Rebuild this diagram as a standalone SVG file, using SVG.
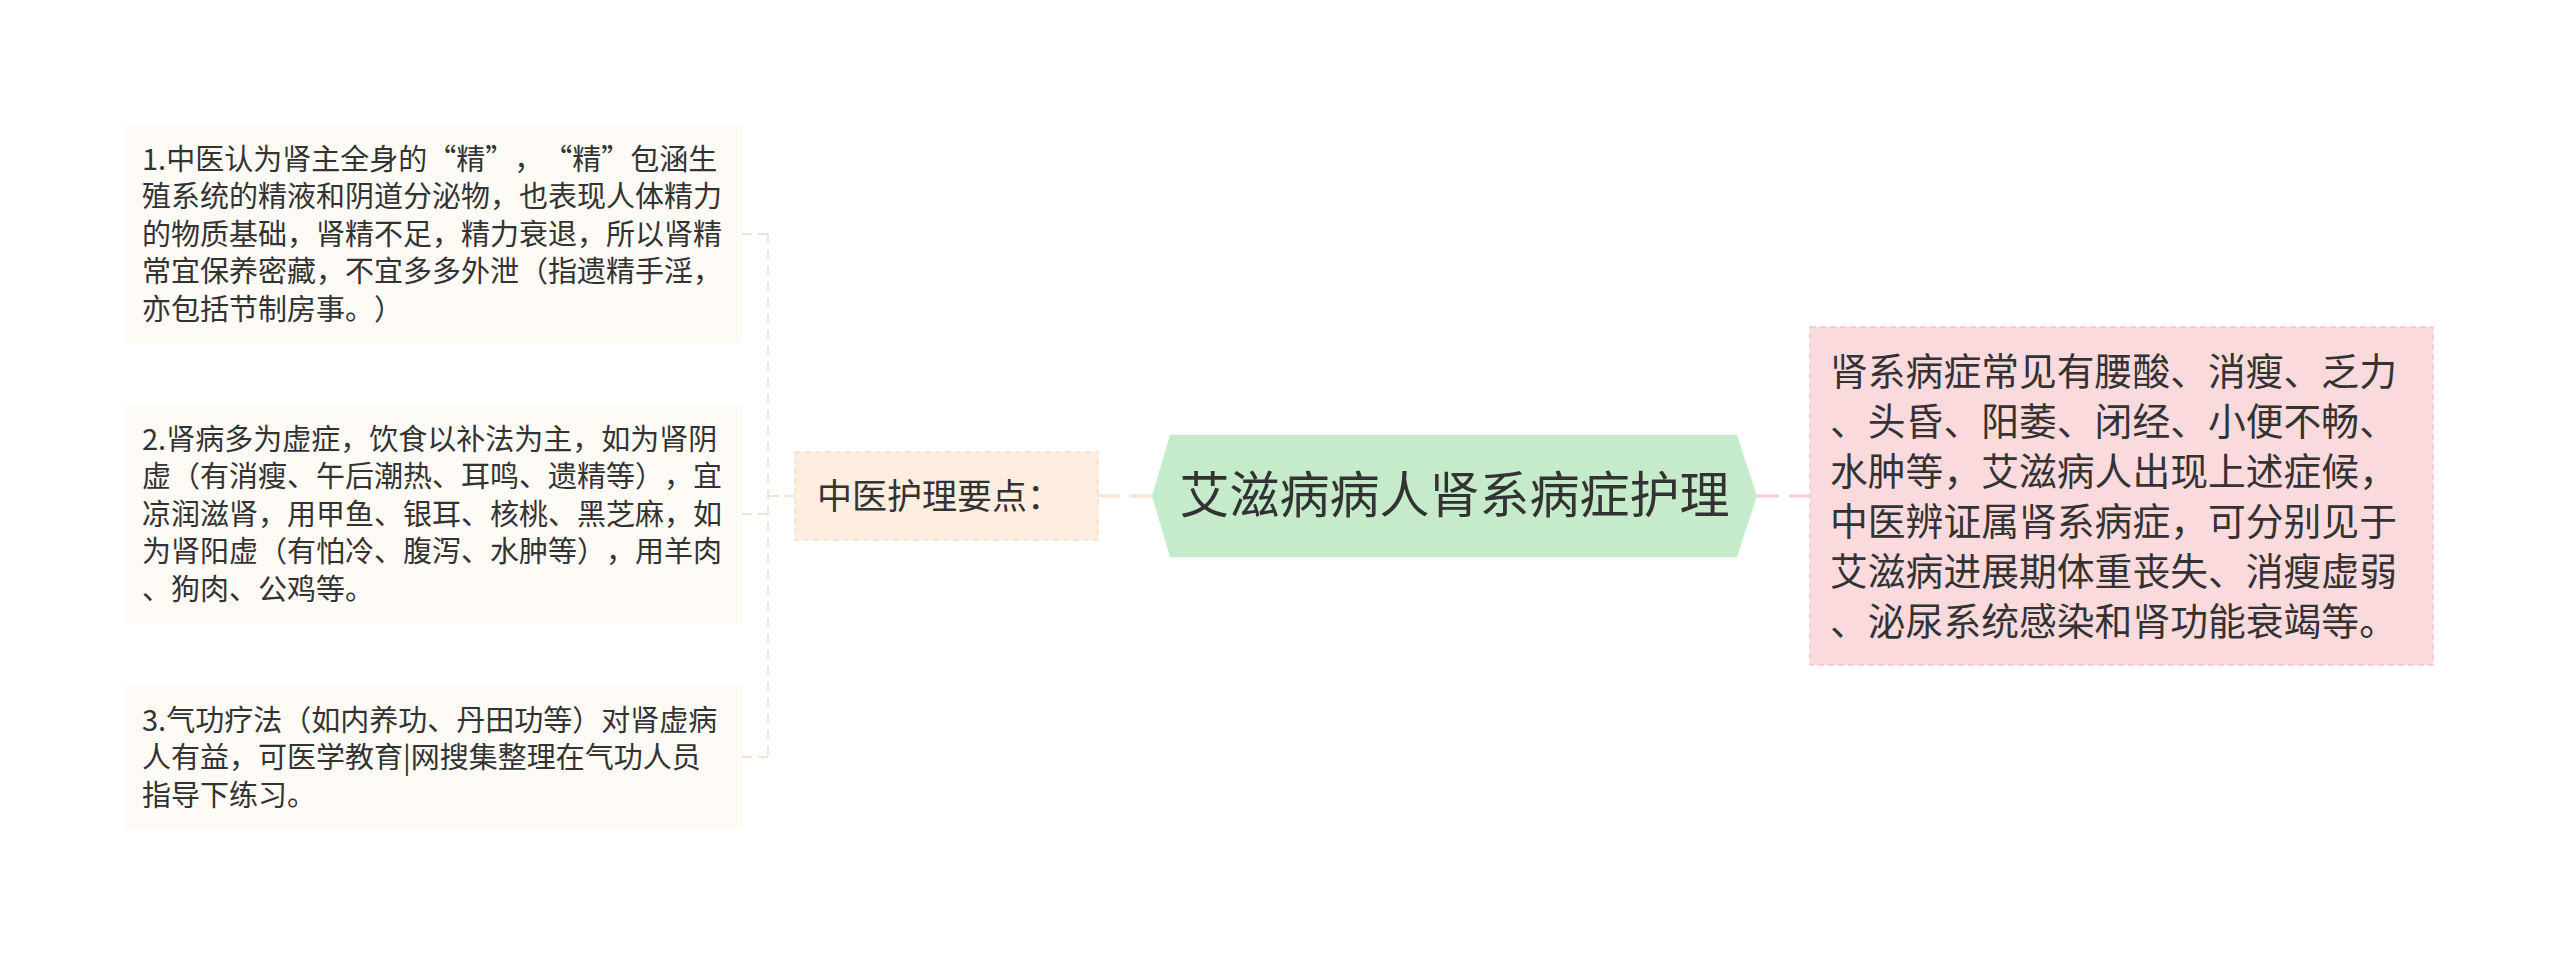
<svg xmlns="http://www.w3.org/2000/svg" width="2560" height="955" viewBox="0 0 2560 955">
<style>
.t{font-family:"Noto Sans CJK SC","Noto Sans",sans-serif;fill:#333333;text-spacing-trim:space-all;font-feature-settings:"chws" 0,"halt" 0;}
.leaf{fill:#FEFAF5;}
.lt{font-size:29px;}
.rt{font-size:37.8px;}
.conL{fill:none;stroke:#F4E2D2;stroke-width:2;stroke-dasharray:10 6;}
.conC{fill:none;stroke:#FBE3D0;stroke-width:3;stroke-dasharray:22 10;}
.conR{fill:none;stroke:#F8CCD1;stroke-width:3;stroke-dasharray:22 10;}
</style>
<rect width="2560" height="955" fill="#FFFFFF"/>
<g id="connectors">
<path class="conL" d="M795,496 H768 M768,234 V757 M742,234 H768 M742,514 H768 M742,757 H768"/>
<path class="conC" d="M1098,496 H1152"/>
<path class="conR" d="M1757,496 H1810"/>
</g>
<g id="root">
<polygon points="1152,496 1170,435 1737,435 1757,496 1737,557 1170,557" fill="#C6EBCB"/>
<text class="t" x="1454.5" y="513" font-size="50" text-anchor="middle">艾滋病病人肾系病症护理</text>
</g>
<g id="node-zhongyi">
<rect x="795" y="452" width="303" height="88" fill="#FDEEDF" stroke="#F8E0CA" stroke-width="1.5" stroke-dasharray="6 4"/>
<text class="t" x="817" y="509" font-size="35">中医护理要点：</text>
</g>
<g id="node-right">
<rect x="1810" y="327" width="623" height="338" fill="#FBDADD" stroke="#F3C6CA" stroke-width="1.5" stroke-dasharray="6 4"/>
<text class="t rt" x="1830" y="384.6">肾系病症常见有腰酸、消瘦、乏力</text>
<text class="t rt" x="1830" y="434.6">、头昏、阳萎、闭经、小便不畅、</text>
<text class="t rt" x="1830" y="484.6">水肿等，艾滋病人出现上述症候，</text>
<text class="t rt" x="1830" y="534.6">中医辨证属肾系病症，可分别见于</text>
<text class="t rt" x="1830" y="584.6">艾滋病进展期体重丧失、消瘦虚弱</text>
<text class="t rt" x="1830" y="634.6">、泌尿系统感染和肾功能衰竭等。</text>
</g>
<g id="leaf-1">
<rect class="leaf" x="125" y="125" width="617" height="218"/>
<text class="t lt" x="142" y="169.7">1.中医认为肾主全身的“精”，“精”包涵生</text>
<text class="t lt" x="142" y="207.2">殖系统的精液和阴道分泌物，也表现人体精力</text>
<text class="t lt" x="142" y="244.7">的物质基础，肾精不足，精力衰退，所以肾精</text>
<text class="t lt" x="142" y="282.2">常宜保养密藏，不宜多多外泄（指遗精手淫，</text>
<text class="t lt" x="142" y="319.7">亦包括节制房事。）</text>
</g>
<g id="leaf-2">
<rect class="leaf" x="125" y="405" width="617" height="219"/>
<text class="t lt" x="142" y="449.7">2.肾病多为虚症，饮食以补法为主，如为肾阴</text>
<text class="t lt" x="142" y="487.2">虚（有消瘦、午后潮热、耳鸣、遗精等），宜</text>
<text class="t lt" x="142" y="524.7">凉润滋肾，用甲鱼、银耳、核桃、黑芝麻，如</text>
<text class="t lt" x="142" y="562.2">为肾阳虚（有怕冷、腹泻、水肿等），用羊肉</text>
<text class="t lt" x="142" y="599.7">、狗肉、公鸡等。</text>
</g>
<g id="leaf-3">
<rect class="leaf" x="125" y="686" width="617" height="143"/>
<text class="t lt" x="142" y="730.7">3.气功疗法（如内养功、丹田功等）对肾虚病</text>
<text class="t lt" x="142" y="768.2">人有益，可医学教育|网搜集整理在气功人员</text>
<text class="t lt" x="142" y="805.7">指导下练习。</text>
</g>
</svg>
